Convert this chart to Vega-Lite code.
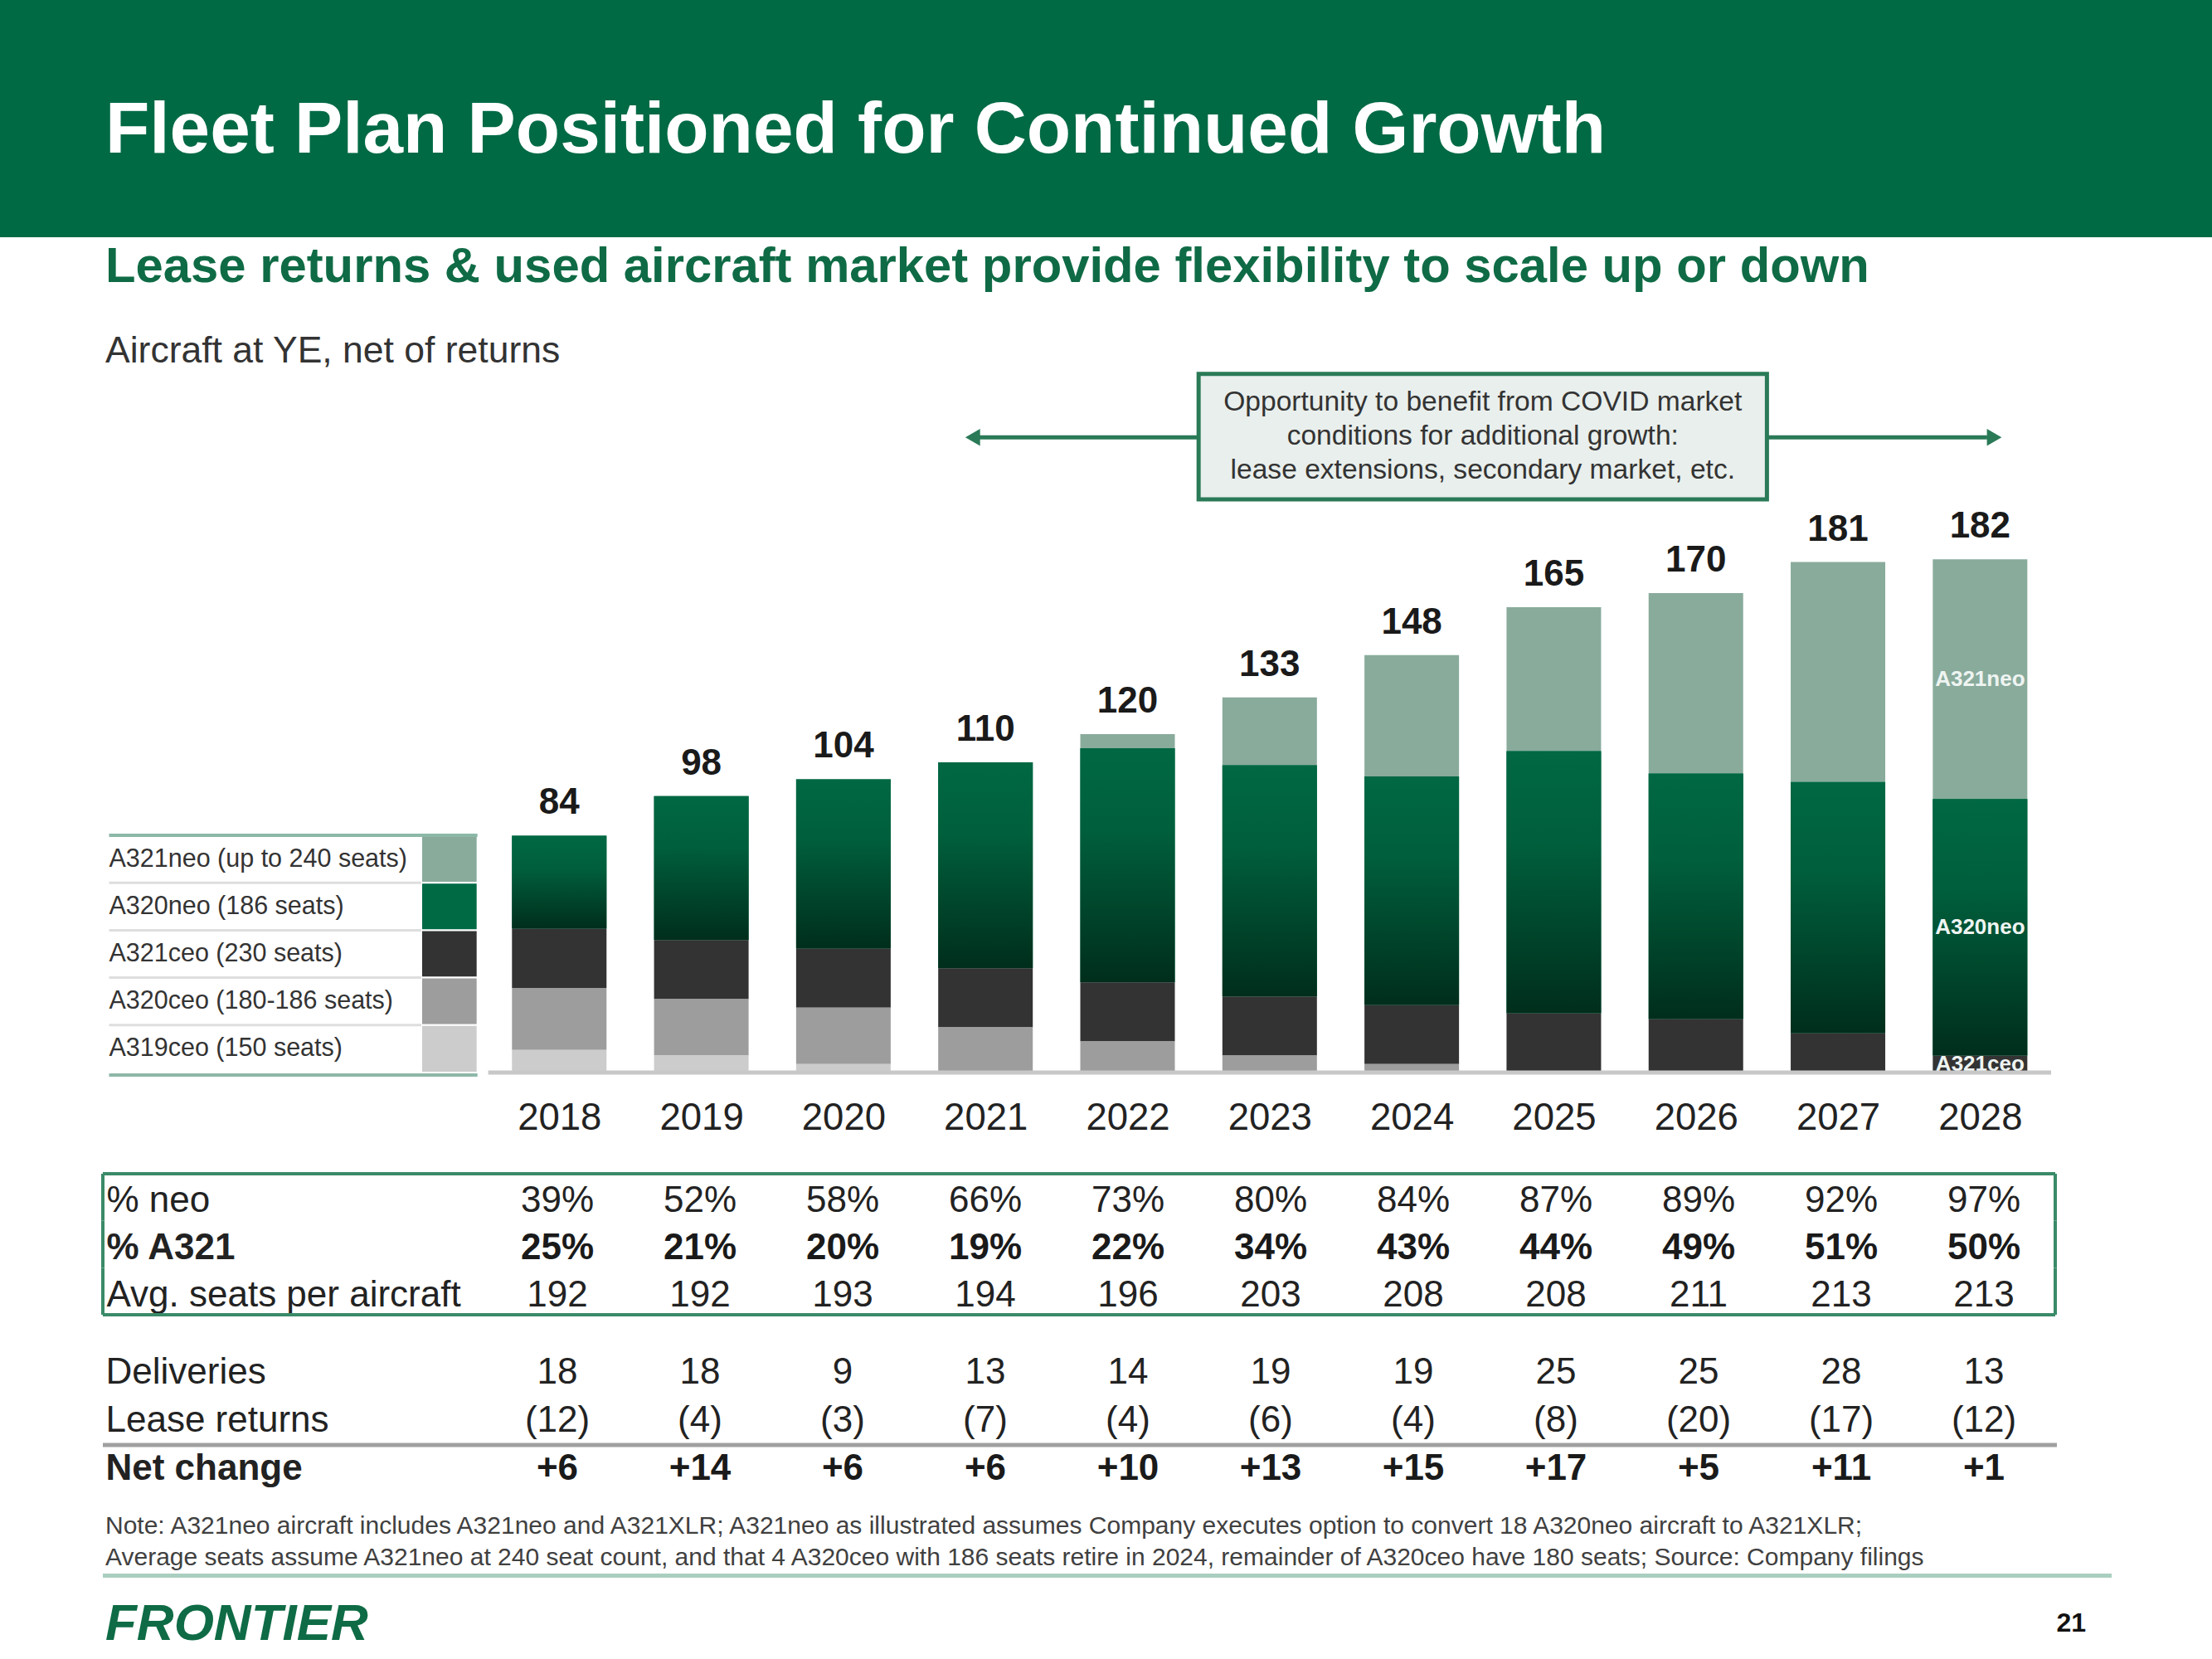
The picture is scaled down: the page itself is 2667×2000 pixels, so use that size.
{
  "$schema": "https://vega.github.io/schema/vega-lite/v6.json",
  "padding": 0,
  "background": "white",
  "spacing": 0,
  "bounds": "flush",
  "config": {
    "font": "Liberation Sans",
    "view": {"stroke": null},
    "concat": {"spacing": 0},
    "title": {"font": "Liberation Sans"}
  },
  "datasets": {
    "fleet": [
      {"year": 2018, "type": "A320neo", "count": 33}, {"year": 2018, "type": "A321ceo", "count": 21}, {"year": 2018, "type": "A320ceo", "count": 22}, {"year": 2018, "type": "A319ceo", "count": 8},
      {"year": 2019, "type": "A320neo", "count": 51}, {"year": 2019, "type": "A321ceo", "count": 21}, {"year": 2019, "type": "A320ceo", "count": 20}, {"year": 2019, "type": "A319ceo", "count": 6},
      {"year": 2020, "type": "A320neo", "count": 60}, {"year": 2020, "type": "A321ceo", "count": 21}, {"year": 2020, "type": "A320ceo", "count": 20}, {"year": 2020, "type": "A319ceo", "count": 3},
      {"year": 2021, "type": "A320neo", "count": 73}, {"year": 2021, "type": "A321ceo", "count": 21}, {"year": 2021, "type": "A320ceo", "count": 16},
      {"year": 2022, "type": "A321neo", "count": 5}, {"year": 2022, "type": "A320neo", "count": 83}, {"year": 2022, "type": "A321ceo", "count": 21}, {"year": 2022, "type": "A320ceo", "count": 11},
      {"year": 2023, "type": "A321neo", "count": 24}, {"year": 2023, "type": "A320neo", "count": 82}, {"year": 2023, "type": "A321ceo", "count": 21}, {"year": 2023, "type": "A320ceo", "count": 6},
      {"year": 2024, "type": "A321neo", "count": 43}, {"year": 2024, "type": "A320neo", "count": 81}, {"year": 2024, "type": "A321ceo", "count": 21}, {"year": 2024, "type": "A320ceo", "count": 3},
      {"year": 2025, "type": "A321neo", "count": 51}, {"year": 2025, "type": "A320neo", "count": 93}, {"year": 2025, "type": "A321ceo", "count": 21},
      {"year": 2026, "type": "A321neo", "count": 64}, {"year": 2026, "type": "A320neo", "count": 87}, {"year": 2026, "type": "A321ceo", "count": 19},
      {"year": 2027, "type": "A321neo", "count": 78}, {"year": 2027, "type": "A320neo", "count": 89}, {"year": 2027, "type": "A321ceo", "count": 14},
      {"year": 2028, "type": "A321neo", "count": 85}, {"year": 2028, "type": "A320neo", "count": 91}, {"year": 2028, "type": "A321ceo", "count": 6}
    ],
    "legend": [
      {"type": "A321neo", "label": "A321neo (up to 240 seats)"},
      {"type": "A320neo", "label": "A320neo (186 seats)"},
      {"type": "A321ceo", "label": "A321ceo (230 seats)"},
      {"type": "A320ceo", "label": "A320ceo (180-186 seats)"},
      {"type": "A319ceo", "label": "A319ceo (150 seats)"}
    ],
    "stats": [
      {"year": 2018, "metric": "% neo", "value": 0.39}, {"year": 2019, "metric": "% neo", "value": 0.52}, {"year": 2020, "metric": "% neo", "value": 0.58}, {"year": 2021, "metric": "% neo", "value": 0.66}, {"year": 2022, "metric": "% neo", "value": 0.73}, {"year": 2023, "metric": "% neo", "value": 0.80}, {"year": 2024, "metric": "% neo", "value": 0.84}, {"year": 2025, "metric": "% neo", "value": 0.87}, {"year": 2026, "metric": "% neo", "value": 0.89}, {"year": 2027, "metric": "% neo", "value": 0.92}, {"year": 2028, "metric": "% neo", "value": 0.97},
      {"year": 2018, "metric": "% A321", "value": 0.25}, {"year": 2019, "metric": "% A321", "value": 0.21}, {"year": 2020, "metric": "% A321", "value": 0.20}, {"year": 2021, "metric": "% A321", "value": 0.19}, {"year": 2022, "metric": "% A321", "value": 0.22}, {"year": 2023, "metric": "% A321", "value": 0.34}, {"year": 2024, "metric": "% A321", "value": 0.43}, {"year": 2025, "metric": "% A321", "value": 0.44}, {"year": 2026, "metric": "% A321", "value": 0.49}, {"year": 2027, "metric": "% A321", "value": 0.51}, {"year": 2028, "metric": "% A321", "value": 0.50},
      {"year": 2018, "metric": "Avg. seats per aircraft", "value": 192}, {"year": 2019, "metric": "Avg. seats per aircraft", "value": 192}, {"year": 2020, "metric": "Avg. seats per aircraft", "value": 193}, {"year": 2021, "metric": "Avg. seats per aircraft", "value": 194}, {"year": 2022, "metric": "Avg. seats per aircraft", "value": 196}, {"year": 2023, "metric": "Avg. seats per aircraft", "value": 203}, {"year": 2024, "metric": "Avg. seats per aircraft", "value": 208}, {"year": 2025, "metric": "Avg. seats per aircraft", "value": 208}, {"year": 2026, "metric": "Avg. seats per aircraft", "value": 211}, {"year": 2027, "metric": "Avg. seats per aircraft", "value": 213}, {"year": 2028, "metric": "Avg. seats per aircraft", "value": 213}
    ],
    "flows": [
      {"year": 2018, "item": "Deliveries", "value": 18}, {"year": 2019, "item": "Deliveries", "value": 18}, {"year": 2020, "item": "Deliveries", "value": 9}, {"year": 2021, "item": "Deliveries", "value": 13}, {"year": 2022, "item": "Deliveries", "value": 14}, {"year": 2023, "item": "Deliveries", "value": 19}, {"year": 2024, "item": "Deliveries", "value": 19}, {"year": 2025, "item": "Deliveries", "value": 25}, {"year": 2026, "item": "Deliveries", "value": 25}, {"year": 2027, "item": "Deliveries", "value": 28}, {"year": 2028, "item": "Deliveries", "value": 13},
      {"year": 2018, "item": "Lease returns", "value": -12}, {"year": 2019, "item": "Lease returns", "value": -4}, {"year": 2020, "item": "Lease returns", "value": -3}, {"year": 2021, "item": "Lease returns", "value": -7}, {"year": 2022, "item": "Lease returns", "value": -4}, {"year": 2023, "item": "Lease returns", "value": -6}, {"year": 2024, "item": "Lease returns", "value": -4}, {"year": 2025, "item": "Lease returns", "value": -8}, {"year": 2026, "item": "Lease returns", "value": -20}, {"year": 2027, "item": "Lease returns", "value": -17}, {"year": 2028, "item": "Lease returns", "value": -12},
      {"year": 2018, "item": "Net change", "value": 6}, {"year": 2019, "item": "Net change", "value": 14}, {"year": 2020, "item": "Net change", "value": 6}, {"year": 2021, "item": "Net change", "value": 6}, {"year": 2022, "item": "Net change", "value": 10}, {"year": 2023, "item": "Net change", "value": 13}, {"year": 2024, "item": "Net change", "value": 15}, {"year": 2025, "item": "Net change", "value": 17}, {"year": 2026, "item": "Net change", "value": 5}, {"year": 2027, "item": "Net change", "value": 11}, {"year": 2028, "item": "Net change", "value": 1}
    ]
  },
  "vconcat": [
    {
      "width": 2667, "height": 286,
      "view": {"fill": "#006a45", "stroke": null},
      "data": {"values": []},
      "mark": "point",
      "title": {"text": "Fleet Plan Positioned for Continued Growth", "anchor": "start", "frame": "group", "orient": "top", "offset": -202, "dx": 127, "color": "#ffffff", "fontSize": 87.3, "fontWeight": "bold"}
    },
    {
      "width": 2667, "height": 157,
      "data": {"values": []},
      "mark": "point",
      "title": {"text": "Lease returns & used aircraft market provide flexibility to scale up or down", "anchor": "start", "frame": "group", "orient": "top", "offset": -66.6, "dx": 127, "color": "#0f6b45", "fontSize": 59.8, "fontWeight": "bold"}
    },
    {
      "width": 2478, "height": 850,
      "title": {"text": "Aircraft at YE, net of returns", "anchor": "start", "frame": "group", "orient": "top", "offset": -3.3, "dx": 127, "color": "#333333", "fontSize": 44.5, "fontWeight": "normal"},
      "resolve": {"scale": {"y": "independent"}},
      "layer": [
        {
          "data": {"name": "fleet"},
          "transform": [
            {"calculate": "indexof(['A319ceo','A320ceo','A321ceo','A320neo','A321neo'], datum.type)", "as": "ord"},
            {"stack": "count", "groupby": ["year"], "sort": [{"field": "ord", "order": "ascending"}], "as": ["y0", "y1"]}
          ],
          "encoding": {
            "x": {"field": "year", "type": "quantitative", "scale": {"domain": [2014.09302, 2028.5], "nice": false, "zero": false},
              "axis": {"title": null, "values": [2018, 2019, 2020, 2021, 2022, 2023, 2024, 2025, 2026, 2027, 2028], "format": "d", "ticks": false, "tickSize": 0, "grid": false, "domain": false, "labelFontSize": 45.5, "labelColor": "#222222", "labelPadding": 32, "labelFlush": false, "labelOverlap": false}}
          },
          "layer": [
            {
              "mark": {"type": "bar", "width": 114},
              "encoding": {
                "y": {"field": "y1", "type": "quantitative", "scale": {"domain": [0, 250], "nice": false}, "axis": null},
                "y2": {"field": "y0"},
                "color": {"field": "type", "type": "nominal",
                  "scale": {"domain": ["A321neo", "A320neo", "A321ceo", "A320ceo", "A319ceo"], "range": ["#89ab9c", "#006a45", "#333333", "#9d9d9d", "#cccccc"]},
                  "legend": null}
              }
            },
            {
              "transform": [{"filter": "datum.type === 'A320neo'"}],
              "mark": {"type": "bar", "width": 114, "fill": {"gradient": "linear", "x1": 0, "y1": 0, "x2": 0, "y2": 1, "stops": [{"offset": 0, "color": "#006843"}, {"offset": 0.35, "color": "#005f3c"}, {"offset": 1, "color": "#002e1c"}]}},
              "encoding": {
                "y": {"field": "y1", "type": "quantitative", "scale": {"domain": [0, 250], "nice": false}, "axis": null},
                "y2": {"field": "y0"}
              }
            },
            {
              "transform": [{"aggregate": [{"op": "sum", "field": "count", "as": "total"}], "groupby": ["year"]}],
              "mark": {"type": "text", "dy": -26, "baseline": "alphabetic", "align": "center", "fontSize": 44, "fontWeight": "bold", "color": "#1a1a1a"},
              "encoding": {
                "y": {"field": "total", "type": "quantitative", "scale": {"domain": [0, 250], "nice": false}, "axis": null},
                "text": {"field": "total", "type": "quantitative", "format": "d"}
              }
            },
            {
              "transform": [{"filter": "datum.year === 2028"}, {"calculate": "(datum.y0 + datum.y1) / 2", "as": "ymid"}],
              "mark": {"type": "text", "align": "center", "baseline": "middle", "fontSize": 26, "fontWeight": "bold", "color": "#eef4f1"},
              "encoding": {
                "y": {"field": "ymid", "type": "quantitative", "scale": {"domain": [0, 250], "nice": false}, "axis": null},
                "text": {"field": "type", "type": "nominal"}
              }
            }
          ]
        },
        {
          "data": {"name": "legend"},
          "encoding": {
            "y": {"field": "label", "type": "nominal", "sort": null,
              "scale": {"domain": ["A321neo (up to 240 seats)", "A320neo (186 seats)", "A321ceo (230 seats)", "A320ceo (180-186 seats)", "A319ceo (150 seats)"], "range": [564, 850], "paddingInner": 0, "paddingOuter": 0},
              "axis": null}
          },
          "layer": [
            {
              "mark": {"type": "rect", "stroke": "#ffffff", "strokeWidth": 2},
              "encoding": {
                "x": {"datum": 2017.0291, "type": "quantitative"},
                "x2": {"datum": 2017.4244},
                "color": {"field": "type", "type": "nominal",
                  "scale": {"domain": ["A321neo", "A320neo", "A321ceo", "A320ceo", "A319ceo"], "range": ["#89ab9c", "#006a45", "#333333", "#9d9d9d", "#cccccc"]},
                  "legend": null}
              }
            },
            {
              "mark": {"type": "text", "align": "left", "baseline": "middle", "fontSize": 30.5, "color": "#333333"},
              "encoding": {
                "x": {"datum": 2014.8314, "type": "quantitative"},
                "text": {"field": "label", "type": "nominal"}
              }
            },
            {
              "transform": [{"filter": "datum.type !== 'A319ceo'"}],
              "mark": {"type": "rule", "color": "#dedede", "strokeWidth": 3},
              "encoding": {
                "x": {"datum": 2014.8314, "type": "quantitative"}, "x2": {"datum": 2017.0291},
                "y": {"field": "label", "type": "nominal", "bandPosition": 1, "axis": null}
              }
            },
            {
              "transform": [{"filter": "datum.type === 'A321neo'"}],
              "mark": {"type": "rule", "color": "#8db8a7", "strokeWidth": 4},
              "encoding": {
                "x": {"datum": 2014.8314, "type": "quantitative"}, "x2": {"datum": 2017.4244},
                "y": {"field": "label", "type": "nominal", "bandPosition": 0, "axis": null}
              }
            },
            {
              "transform": [{"filter": "datum.type === 'A319ceo'"}],
              "mark": {"type": "rule", "color": "#8db8a7", "strokeWidth": 4, "yOffset": 3},
              "encoding": {
                "x": {"datum": 2014.8314, "type": "quantitative"}, "x2": {"datum": 2017.4244},
                "y": {"field": "label", "type": "nominal", "bandPosition": 1, "axis": null}
              }
            }
          ]
        },
        {
          "data": {"values": [{}]},
          "layer": [
            {
              "mark": {"type": "rule", "color": "#c8c8c8", "strokeWidth": 5},
              "encoding": {"x": {"datum": 2017.5, "type": "quantitative"}, "x2": {"datum": 2028.5}, "y": {"datum": 0, "type": "quantitative", "scale": {"domain": [0, 250], "nice": false}, "axis": null}}
            },
            {
              "mark": {"type": "rule", "color": "#2a7a57", "strokeWidth": 5},
              "encoding": {"x": {"datum": 2020.95, "type": "quantitative"}, "x2": {"datum": 2022.5}, "y": {"datum": 225.2, "type": "quantitative", "scale": {"domain": [0, 250], "nice": false}, "axis": null}}
            },
            {
              "mark": {"type": "rule", "color": "#2a7a57", "strokeWidth": 5},
              "encoding": {"x": {"datum": 2026.5, "type": "quantitative"}, "x2": {"datum": 2028.05}, "y": {"datum": 225.2, "type": "quantitative", "scale": {"domain": [0, 250], "nice": false}, "axis": null}}
            },
            {
              "mark": {"type": "point", "shape": "triangle-left", "filled": true, "size": 420, "color": "#2a7a57", "opacity": 1},
              "encoding": {"x": {"datum": 2020.91, "type": "quantitative"}, "y": {"datum": 225.2, "type": "quantitative", "scale": {"domain": [0, 250], "nice": false}, "axis": null}}
            },
            {
              "mark": {"type": "point", "shape": "triangle-right", "filled": true, "size": 420, "color": "#2a7a57", "opacity": 1},
              "encoding": {"x": {"datum": 2028.1, "type": "quantitative"}, "y": {"datum": 225.2, "type": "quantitative", "scale": {"domain": [0, 250], "nice": false}, "axis": null}}
            },
            {
              "mark": {"type": "rect", "fill": "#e9efec", "stroke": "#2a7a57", "strokeWidth": 5},
              "encoding": {"x": {"datum": 2022.5, "type": "quantitative"}, "x2": {"datum": 2026.5}, "y": {"datum": 247.7, "type": "quantitative", "scale": {"domain": [0, 250], "nice": false}, "axis": null}, "y2": {"datum": 203.2}}
            },
            {
              "mark": {"type": "text", "align": "center", "baseline": "middle", "fontSize": 33.6, "lineHeight": 41, "color": "#333333"},
              "encoding": {
                "x": {"datum": 2024.5, "type": "quantitative"},
                "y": {"datum": 237.6, "type": "quantitative", "scale": {"domain": [0, 250], "nice": false}, "axis": null},
                "text": {"value": ["Opportunity to benefit from COVID market", "conditions for additional growth:", "lease extensions, secondary market, etc."]}
              }
            }
          ]
        }
      ]
    },
    {"width": 2667, "height": 122, "data": {"values": []}, "mark": "point"},
    {
      "width": 2480, "height": 170,
      "data": {"name": "stats"},
      "encoding": {
        "x": {"field": "year", "type": "quantitative", "scale": {"domain": [2014.09302, 2028.5116], "nice": false, "zero": false}, "axis": null},
        "y": {"field": "metric", "type": "nominal", "scale": {"domain": ["% neo", "% A321", "Avg. seats per aircraft"], "paddingInner": 0, "paddingOuter": 0},
          "axis": {"title": null, "orient": "left", "labelAlign": "left", "labelBaseline": "middle", "labelPadding": -128, "ticks": false, "tickSize": 0, "domain": false, "labelFontSize": 44, "labelColor": "#222222", "labelLimit": 1000, "labelOffset": 5,
            "labelFontWeight": {"condition": {"test": "datum.value === '% A321'", "value": "bold"}, "value": "normal"}}}
      },
      "layer": [
        {
          "transform": [{"filter": "datum.metric === '% neo'"}],
          "mark": {"type": "text", "align": "center", "baseline": "middle", "dy": 5, "fontSize": 44, "color": "#222222"},
          "encoding": {"text": {"field": "value", "type": "quantitative", "format": ".0%"}}
        },
        {
          "transform": [{"filter": "datum.metric === '% A321'"}],
          "mark": {"type": "text", "align": "center", "baseline": "middle", "dy": 5, "fontSize": 44, "fontWeight": "bold", "color": "#1a1a1a"},
          "encoding": {"text": {"field": "value", "type": "quantitative", "format": ".0%"}}
        },
        {
          "transform": [{"filter": "datum.metric === 'Avg. seats per aircraft'"}],
          "mark": {"type": "text", "align": "center", "baseline": "middle", "dy": 5, "fontSize": 44, "color": "#222222"},
          "encoding": {"text": {"field": "value", "type": "quantitative", "format": "d"}}
        },
        {
          "transform": [{"filter": "datum.metric === '% neo' && datum.year === 2018"}],
          "mark": {"type": "rule", "color": "#3a8a68", "strokeWidth": 4},
          "encoding": {"x": {"datum": 2014.814, "type": "quantitative"}, "x2": {"datum": 2028.5}, "y": {"field": "metric", "type": "nominal", "bandPosition": 0}}
        },
        {
          "transform": [{"filter": "datum.metric === 'Avg. seats per aircraft' && datum.year === 2018"}],
          "mark": {"type": "rule", "color": "#3a8a68", "strokeWidth": 4},
          "encoding": {"x": {"datum": 2014.814, "type": "quantitative"}, "x2": {"datum": 2028.5}, "y": {"field": "metric", "type": "nominal", "bandPosition": 1}}
        },
        {
          "transform": [{"filter": "datum.year === 2018"}],
          "mark": {"type": "rule", "color": "#3a8a68", "strokeWidth": 4},
          "encoding": {"x": {"datum": 2014.814, "type": "quantitative"}, "y": {"field": "metric", "type": "nominal", "bandPosition": 0}, "y2": {"field": "metric", "bandPosition": 1}}
        },
        {
          "transform": [{"filter": "datum.year === 2018"}],
          "mark": {"type": "rule", "color": "#3a8a68", "strokeWidth": 4},
          "encoding": {"x": {"datum": 2028.5, "type": "quantitative"}, "y": {"field": "metric", "type": "nominal", "bandPosition": 0}, "y2": {"field": "metric", "bandPosition": 1}}
        }
      ]
    },
    {"width": 2667, "height": 41, "data": {"values": []}, "mark": "point"},
    {
      "width": 2480, "height": 174,
      "data": {"name": "flows"},
      "encoding": {
        "x": {"field": "year", "type": "quantitative", "scale": {"domain": [2014.09302, 2028.5116], "nice": false, "zero": false}, "axis": null},
        "y": {"field": "item", "type": "nominal", "scale": {"domain": ["Deliveries", "Lease returns", "Net change"], "paddingInner": 0, "paddingOuter": 0},
          "axis": {"title": null, "orient": "left", "labelAlign": "left", "labelBaseline": "middle", "labelPadding": -127, "ticks": false, "tickSize": 0, "domain": false, "labelFontSize": 44, "labelColor": "#222222", "labelLimit": 1000,
            "labelFontWeight": {"condition": {"test": "datum.value === 'Net change'", "value": "bold"}, "value": "normal"}}}
      },
      "layer": [
        {
          "transform": [{"filter": "datum.item === 'Net change' && datum.year === 2018"}],
          "mark": {"type": "rule", "color": "#a0a0a0", "strokeWidth": 5},
          "encoding": {"x": {"datum": 2014.814, "type": "quantitative"}, "x2": {"datum": 2028.5116}, "y": {"field": "item", "type": "nominal", "bandPosition": 0}}
        },
        {
          "transform": [{"filter": "datum.item === 'Deliveries'"}],
          "mark": {"type": "text", "align": "center", "baseline": "middle", "fontSize": 44, "color": "#222222"},
          "encoding": {"text": {"field": "value", "type": "quantitative", "format": "d"}}
        },
        {
          "transform": [{"filter": "datum.item === 'Lease returns'"}],
          "mark": {"type": "text", "align": "center", "baseline": "middle", "fontSize": 44, "color": "#222222"},
          "encoding": {"text": {"field": "value", "type": "quantitative", "format": "(d"}}
        },
        {
          "transform": [{"filter": "datum.item === 'Net change'"}],
          "mark": {"type": "text", "align": "center", "baseline": "middle", "fontSize": 44, "fontWeight": "bold", "color": "#1a1a1a"},
          "encoding": {"text": {"field": "value", "type": "quantitative", "format": "+d"}}
        }
      ]
    },
    {
      "width": 2667, "height": 97,
      "data": {"values": []},
      "mark": "point",
      "title": {"text": ["Note: A321neo aircraft includes A321neo and A321XLR; A321neo as illustrated assumes Company executes option to convert 18 A320neo aircraft to A321XLR;", "Average seats assume A321neo at 240 seat count, and that 4 A320ceo with 186 seats retire in 2024, remainder of A320ceo have 180 seats; Source: Company filings"], "anchor": "start", "frame": "group", "orient": "top", "offset": -93, "dx": 127, "color": "#404040", "fontSize": 30, "fontWeight": "normal", "lineHeight": 38}
    },
    {
      "width": 2546, "height": 5,
      "data": {"values": [{}]},
      "mark": {"type": "rect", "color": "#a9cfc0"},
      "encoding": {"x": {"datum": 2014.814, "type": "quantitative", "scale": {"domain": [2014.09302, 2028.8953], "nice": false, "zero": false}, "axis": null}, "x2": {"datum": 2028.8953}},
      "title": {"text": "FRONTIER", "anchor": "start", "frame": "group", "orient": "top", "offset": -93, "dx": 127, "color": "#0e6b45", "fontSize": 62, "fontWeight": 900, "fontStyle": "italic"}
    },
    {
      "width": 2515, "height": 98,
      "data": {"values": []},
      "mark": "point",
      "title": {"text": "21", "anchor": "end", "frame": "group", "orient": "top", "offset": -72, "dx": 0, "color": "#111111", "fontSize": 32, "fontWeight": "bold"}
    }
  ]
}
